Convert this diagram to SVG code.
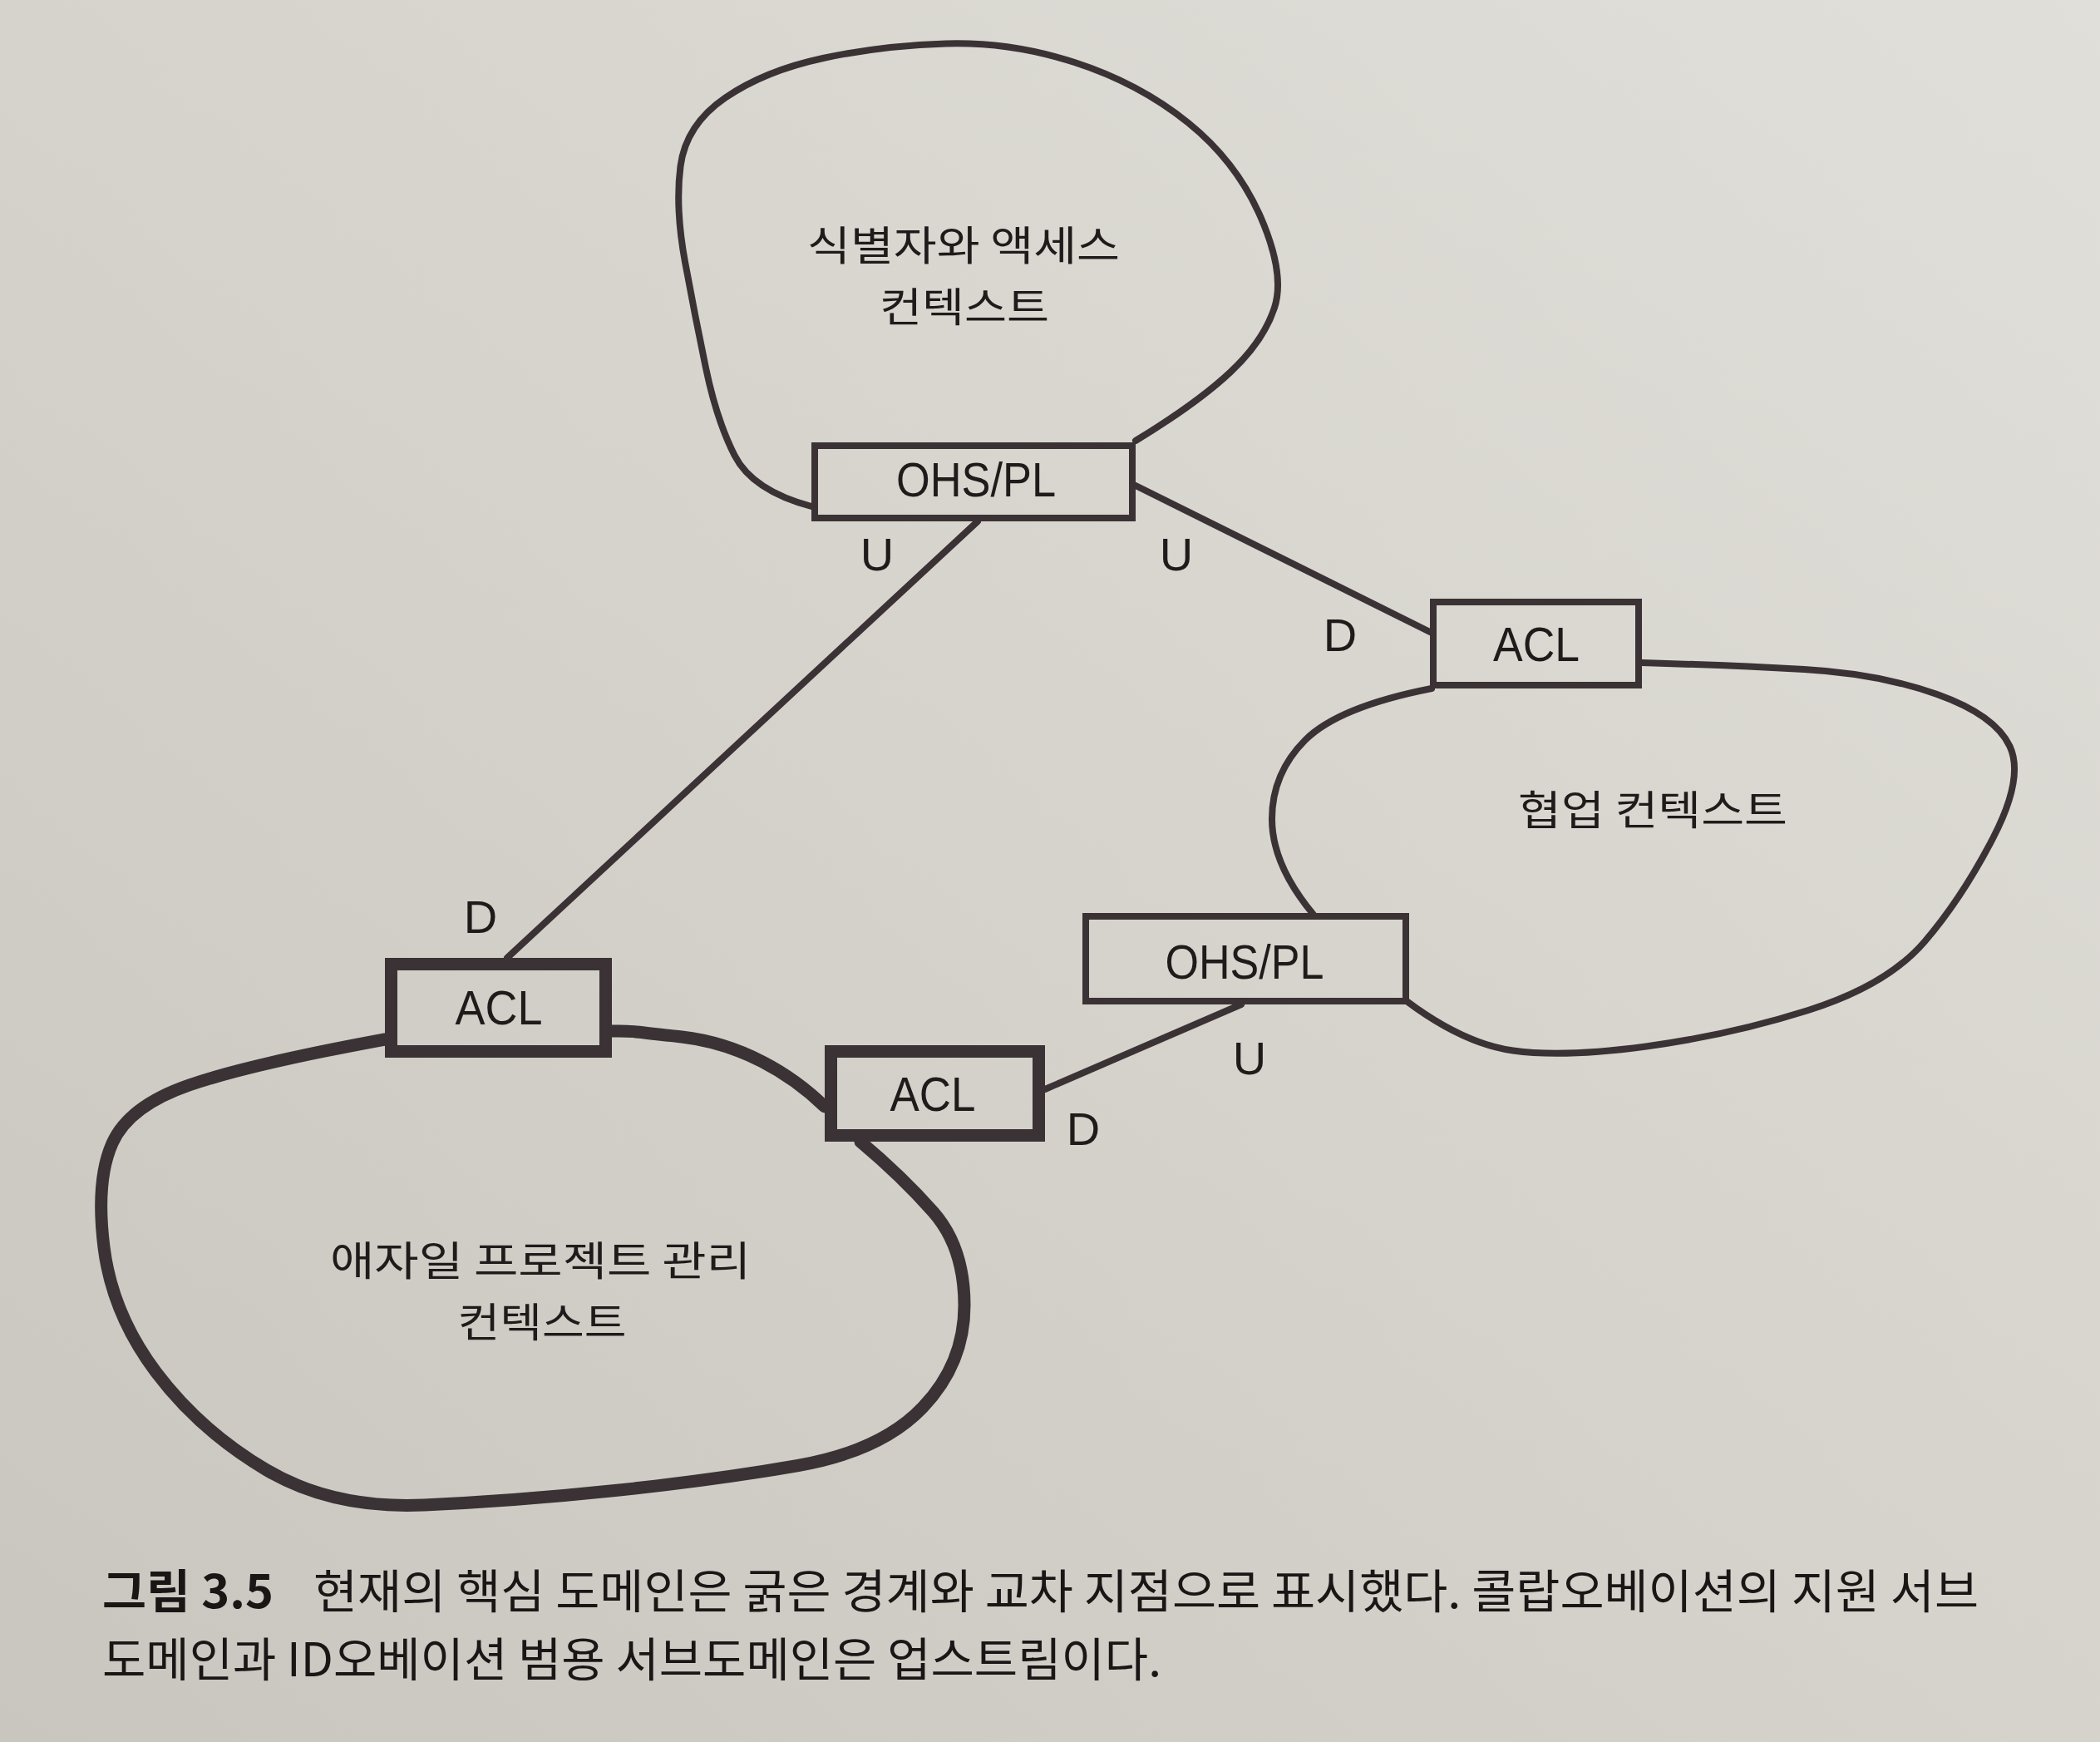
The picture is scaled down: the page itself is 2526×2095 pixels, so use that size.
<svg xmlns="http://www.w3.org/2000/svg" width="2526" height="2095" viewBox="0 0 2526 2095">
<defs>
<linearGradient id="paper" x1="1" y1="0" x2="0" y2="1">
<stop offset="0" stop-color="#e1dfd9"/>
<stop offset="0.5" stop-color="#d5d3cc"/>
<stop offset="1" stop-color="#c8c6bf"/>
</linearGradient>
<style>
.line{fill:none;stroke:#3a3234;stroke-width:8;stroke-linecap:round;stroke-linejoin:round}
.core{stroke-width:15}
.box{fill:none;stroke:#3a3234;stroke-width:8}
.box.core{stroke-width:15}
.lbl{font-family:"Liberation Sans",Arial,sans-serif;font-size:58px;fill:#1f1b1b;text-anchor:middle}
.ud{font-family:"Liberation Sans",Arial,sans-serif;font-size:56px;fill:#1f1b1b;text-anchor:middle}
.ko{font-family:"Noto Sans CJK KR","Noto Sans CJK SC",sans-serif;font-size:49px;fill:#1f1b1b;text-anchor:middle}
.cap{font-family:"Noto Sans CJK KR","Noto Sans CJK SC",sans-serif;font-size:56px;fill:#1a1616}
.capb{font-weight:bold}
</style>
</defs>
<rect x="0" y="0" width="2526" height="2095" fill="url(#paper)"/>

<g id="connectors">
<line class="line" x1="1176" y1="627" x2="610" y2="1152"/>
<line class="line" x1="1366" y1="584" x2="1720" y2="760"/>
<line class="line" x1="1493" y1="1208" x2="1257" y2="1310"/>
</g>

<g id="identity-access-context">
<path class="line" d="M976 609 Q905 590 883.5 547.5 Q862 505 849 442.5 Q836 380 824 315 Q812 250 818.5 200 Q825 150 872.5 117.5 Q920 85 990 70 Q1060 55 1137.5 52.5 Q1215 50 1292.5 75 Q1370 100 1429 147.5 Q1488 195 1517 262.5 Q1546 330 1533 370 Q1520 410 1480 447.5 Q1440 485 1366 530"/>
<text class="ko" x="1159" y="313" textLength="376" lengthAdjust="spacingAndGlyphs">식별자와 액세스</text>
<text class="ko" x="1160" y="387" textLength="204" lengthAdjust="spacingAndGlyphs">컨텍스트</text>
</g>

<g id="identity-ohs">
<rect class="box" x="980" y="536" width="382" height="87"/>
<text class="lbl" x="1174" y="597" textLength="192" lengthAdjust="spacingAndGlyphs">OHS/PL</text>
</g>

<g id="collaboration-context">
<path class="line" d="M1722 828 Q1610 850 1570 890 Q1530 930 1530 985 Q1530 1040 1580 1100"/>
<path class="line" d="M1692 1204 Q1760 1255 1820 1263.5 Q1880 1272 1980 1258.5 Q2080 1245 2175 1215 Q2270 1185 2315 1132.5 Q2360 1080 2397.5 1007.5 Q2435 935 2417.5 897.5 Q2400 860 2330 835 Q2260 810 2170 805 Q2080 800 1975 797"/>
<text class="ko" x="1988" y="992" textLength="324" lengthAdjust="spacingAndGlyphs">협업 컨텍스트</text>
</g>

<g id="collaboration-acl">
<rect class="box" x="1724" y="724" width="247" height="100"/>
<text class="lbl" x="1848" y="795" textLength="104" lengthAdjust="spacingAndGlyphs">ACL</text>
</g>

<g id="collaboration-ohs">
<rect class="box" x="1306" y="1102" width="385" height="102"/>
<text class="lbl" x="1497" y="1177" textLength="191" lengthAdjust="spacingAndGlyphs">OHS/PL</text>
</g>

<g id="agile-pm-context">
<path class="line core" d="M463 1250 Q300 1280 227.5 1305 Q155 1330 135 1375 Q115 1420 125 1500 Q135 1580 187.5 1650 Q240 1720 320 1767.5 Q400 1815 510 1810 Q620 1805 740 1792.5 Q860 1780 960 1762.5 Q1060 1745 1110 1692.5 Q1160 1640 1160 1570 Q1160 1500 1122.5 1457.5 Q1085 1415 1035 1373"/>
<path class="line core" d="M992 1331 C950 1290 890 1255 820 1247 S760 1240 736 1240"/>
<text class="ko" x="650" y="1534" textLength="506" lengthAdjust="spacingAndGlyphs">애자일 프로젝트 관리</text>
<text class="ko" x="652" y="1608" textLength="203" lengthAdjust="spacingAndGlyphs">컨텍스트</text>
</g>

<g id="agile-acl-identity">
<rect class="box core" x="470.5" y="1159.5" width="258" height="105"/>
<text class="lbl" x="600" y="1232" textLength="105" lengthAdjust="spacingAndGlyphs">ACL</text>
</g>

<g id="agile-acl-collaboration">
<rect class="box core" x="999.5" y="1264.5" width="250" height="101"/>
<text class="lbl" x="1122" y="1336" textLength="103" lengthAdjust="spacingAndGlyphs">ACL</text>
</g>

<g id="relationship-labels">
<text class="ud" x="1055" y="686">U</text>
<text class="ud" x="1415" y="686">U</text>
<text class="ud" x="1612" y="783">D</text>
<text class="ud" x="578" y="1122">D</text>
<text class="ud" x="1503" y="1292">U</text>
<text class="ud" x="1303" y="1377">D</text>
</g>

<g id="caption">
<text class="cap capb" x="123" y="1934" textLength="206" lengthAdjust="spacingAndGlyphs">그림 3.5</text>
<text class="cap" x="377" y="1934" textLength="2003" lengthAdjust="spacingAndGlyphs">현재의 핵심 도메인은 굵은 경계와 교차 지점으로 표시했다. 콜랍오베이션의 지원 서브</text>
<text class="cap" x="123" y="2016" textLength="1274" lengthAdjust="spacingAndGlyphs">도메인과 ID오베이션 범용 서브도메인은 업스트림이다.</text>
</g>
</svg>
